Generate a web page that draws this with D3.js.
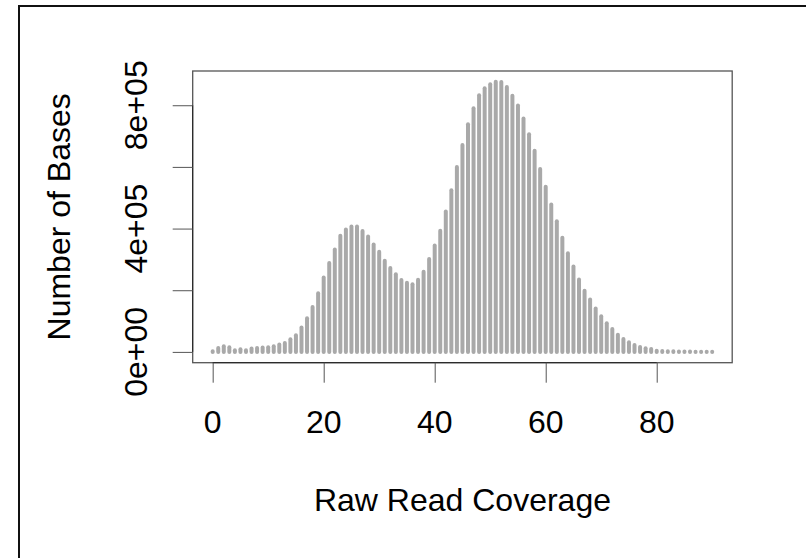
<!DOCTYPE html>
<html>
<head>
<meta charset="utf-8">
<script src="https://cdn.jsdelivr.net/npm/d3@7"></script>
<style>
  body { margin: 0; background: #fff; }
  svg { display: block; }
  text { font-family: "Liberation Sans", Arial, Helvetica, sans-serif; fill: #000; }
</style>
</head>
<body>
<svg width="806" height="558"></svg>
<script>
// number of bases at each raw read coverage (0..90)
const counts = [
  2000, 13000, 18500, 15000, 5000, 8800, 5500, 10700, 13000, 14000,
  15000, 18500, 23700, 29000, 41000, 54000, 79000, 109000, 146000, 190000,
  241000, 288000, 332000, 377000, 397000, 407000, 407000, 392000, 374000, 348000,
  325000, 296000, 272000, 252000, 233000, 224000, 219000, 234000, 260000, 301000,
  345000, 393000, 455000, 524000, 600000, 671000, 738000, 790000, 832000, 855000,
  868000, 876000, 875000, 859000, 831000, 799000, 757000, 706000, 652000, 593000,
  536000, 478000, 424000, 370000, 320000, 277000, 235000, 198000, 170000, 141000,
  116000, 93000, 74000, 56000, 42000, 31000, 22000, 16000, 12000, 9000,
  4000, 3000, 2500, 2000, 1500, 1200, 1000, 800, 600, 500,
  400
];
const coverage = counts.map((d, i) => i);

const xTicks = [0, 20, 40, 60, 80];
const yTicks = [0, 2e5, 4e5, 6e5, 8e5];
const yLabels = ["0e+00", "", "4e+05", "", "8e+05"];

const xTitle = "Raw Read Coverage";
const yTitle = "Number of Bases";

const svg = d3.select("svg");

const box = { left: 192.7, right: 732.2, top: 71, bottom: 362.7 };

// R style 4% padding on both axes
function padded(ext) {
  const r = ext[1] - ext[0];
  return [ext[0] - 0.04 * r, ext[1] + 0.04 * r];
}

const x = d3.scaleLinear()
  .domain(padded(d3.extent(coverage)))
  .range([box.left, box.right]);

const y = d3.scaleLinear()
  .domain(padded([0, d3.max(counts)]))
  .range([box.bottom, box.top]);

// outer frame (only left and top edges show)
svg.append("line")
  .attr("x1", 19).attr("y1", 6).attr("x2", 19).attr("y2", 558)
  .attr("stroke", "#111").attr("stroke-width", 2);
svg.append("line")
  .attr("x1", 18).attr("y1", 6).attr("x2", 806).attr("y2", 6)
  .attr("stroke", "#111").attr("stroke-width", 2);

// histogram-like vertical lines
svg.append("g")
  .attr("class", "bars")
  .selectAll("line")
  .data(counts)
  .join("line")
  .attr("x1", (d, i) => x(coverage[i]))
  .attr("x2", (d, i) => x(coverage[i]))
  .attr("y1", y(0))
  .attr("y2", (d) => y(d))
  .attr("stroke", "#a9a9a9")
  .attr("stroke-width", 4)
  .attr("stroke-linecap", "round");

// plot box
svg.append("rect")
  .attr("x", box.left).attr("y", box.top)
  .attr("width", box.right - box.left).attr("height", box.bottom - box.top)
  .attr("fill", "none")
  .attr("stroke", "#555")
  .attr("stroke-width", 1.3);

// axes
const xAxis = svg.append("g")
  .attr("transform", `translate(0,${box.bottom})`)
  .call(d3.axisBottom(x).tickValues(xTicks).tickSize(20).tickSizeOuter(0).tickFormat(""));
xAxis.select(".domain")
  .attr("d", `M${x(xTicks[0])},0H${x(xTicks[xTicks.length - 1])}`)
  .attr("stroke", "#222");
xAxis.selectAll(".tick line").attr("stroke", "#555");

const yAxis = svg.append("g")
  .attr("transform", `translate(${box.left},0)`)
  .call(d3.axisLeft(y).tickValues(yTicks).tickSize(20).tickSizeOuter(0).tickFormat(""));
yAxis.select(".domain")
  .attr("d", `M0,${y(yTicks[0])}V${y(yTicks[yTicks.length - 1])}`)
  .attr("stroke", "#222");
yAxis.selectAll(".tick line").attr("stroke", "#555");

// tick labels
svg.append("g")
  .selectAll("text")
  .data(xTicks)
  .join("text")
  .attr("x", (d) => x(d))
  .attr("y", 433.3)
  .attr("text-anchor", "middle")
  .attr("font-size", 32)
  .text((d) => d);

svg.append("g")
  .selectAll("text")
  .data(yTicks)
  .join("text")
  .attr("transform", (d) => `translate(146.7,${y(d)}) rotate(-90)`)
  .attr("text-anchor", "middle")
  .attr("font-size", 32)
  .text((d, i) => yLabels[i]);

// axis titles
svg.append("text")
  .attr("x", (box.left + box.right) / 2)
  .attr("y", 511)
  .attr("text-anchor", "middle")
  .attr("font-size", 32)
  .text(xTitle);

svg.append("text")
  .attr("transform", `translate(70,${(box.top + box.bottom) / 2}) rotate(-90)`)
  .attr("text-anchor", "middle")
  .attr("font-size", 32)
  .text(yTitle);
</script>
</body>
</html>
